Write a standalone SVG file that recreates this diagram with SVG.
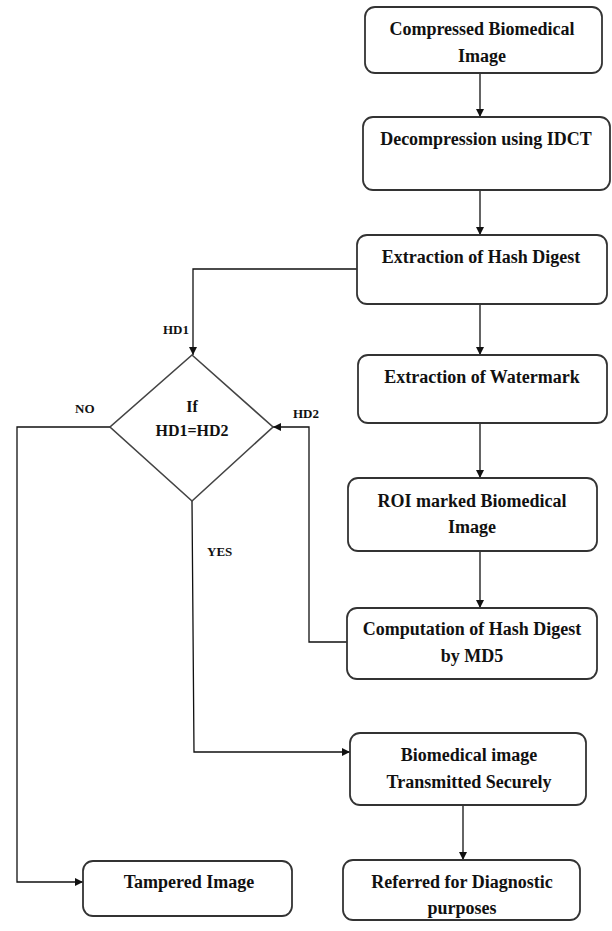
<svg xmlns="http://www.w3.org/2000/svg" width="612" height="931" viewBox="0 0 612 931">
<style>
.box{fill:#fff;stroke:#333;stroke-width:1.8}
.dia{fill:#fff;stroke:#444;stroke-width:1.6}
.t{font-family:"Liberation Serif","Times New Roman",serif;font-weight:bold;font-size:18px;fill:#111;text-anchor:middle}
.d{font-size:16px}
.l{font-family:"Liberation Serif","Times New Roman",serif;font-weight:bold;font-size:13px;fill:#111}
.c{fill:none;stroke:#111;stroke-width:1.3}
</style>
<defs>
<marker id="ah" viewBox="0 0 10 10" refX="10" refY="5" markerWidth="8" markerHeight="8" markerUnits="userSpaceOnUse" orient="auto">
<path d="M0,0 L10,5 L0,10 z" fill="#111"/>
</marker>
</defs>
<rect width="612" height="931" fill="#fff"/>
<g id="connectors">
<path class="c" d="M480,73 V117" marker-end="url(#ah)"/>
<path class="c" d="M480,190 V235" marker-end="url(#ah)"/>
<path class="c" d="M357,269 H193 V355" marker-end="url(#ah)"/>
<path class="c" d="M480,304 V355" marker-end="url(#ah)"/>
<path class="c" d="M480,423 V478" marker-end="url(#ah)"/>
<path class="c" d="M480,551 V608" marker-end="url(#ah)"/>
<path class="c" d="M347,642 H309 V427 H273" marker-end="url(#ah)"/>
<path class="c" d="M110,427 H17 V882 H83" marker-end="url(#ah)"/>
<path class="c" d="M192,501 L194,752 H350" marker-end="url(#ah)"/>
<path class="c" d="M463,805 V860" marker-end="url(#ah)"/>
<text class="l" x="163" y="334">HD1</text>
<text class="l" x="293" y="418">HD2</text>
<text class="l" x="75" y="413">NO</text>
<text class="l" x="207" y="556">YES</text>
</g>
<g id="n1">
<rect class="box" x="365" y="7" width="237" height="66" rx="10"/>
<text class="t" x="482" y="35">Compressed Biomedical</text>
<text class="t" x="482" y="62">Image</text>
</g>
<g id="n2">
<rect class="box" x="363" y="117" width="247" height="73" rx="10"/>
<text class="t" x="486" y="145">Decompression using IDCT</text>
</g>
<g id="n3">
<rect class="box" x="357" y="235" width="250" height="69" rx="10"/>
<text class="t" x="481" y="263">Extraction of Hash Digest</text>
</g>
<g id="n4">
<rect class="box" x="358" y="355" width="249" height="68" rx="10"/>
<text class="t" x="482" y="383">Extraction of Watermark</text>
</g>
<g id="n5">
<rect class="box" x="348" y="478" width="249" height="73" rx="10"/>
<text class="t" x="472" y="507">ROI marked Biomedical</text>
<text class="t" x="472" y="533">Image</text>
</g>
<g id="n6">
<rect class="box" x="347" y="608" width="250" height="71" rx="10"/>
<text class="t" x="472" y="635">Computation of Hash Digest</text>
<text class="t" x="472" y="662">by MD5</text>
</g>
<g id="decision">
<polygon class="dia" points="192,355 273,427 192,501 110,427"/>
<text class="t d" x="192" y="412">If</text>
<text class="t d" x="192" y="436">HD1=HD2</text>
</g>
<g id="n7">
<rect class="box" x="350" y="733" width="236" height="72" rx="10"/>
<text class="t" x="469" y="761">Biomedical image</text>
<text class="t" x="469" y="788">Transmitted Securely</text>
</g>
<g id="n8">
<rect class="box" x="343" y="860" width="237" height="60" rx="10"/>
<text class="t" x="462" y="888">Referred for Diagnostic</text>
<text class="t" x="462" y="914">purposes</text>
</g>
<g id="n9">
<rect class="box" x="83" y="861" width="209" height="55" rx="10"/>
<text class="t" x="189" y="888">Tampered Image</text>
</g>
</svg>
